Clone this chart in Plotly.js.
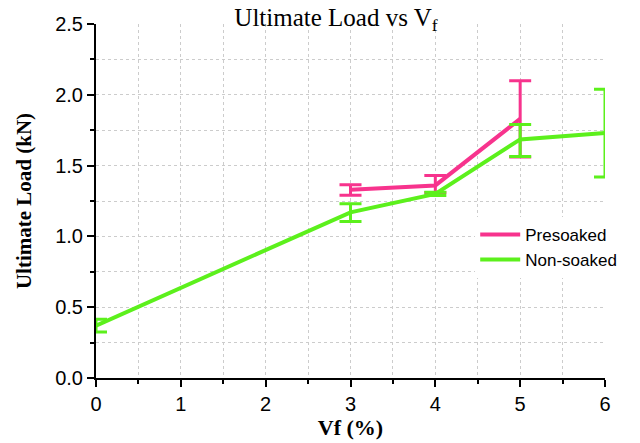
<!DOCTYPE html>
<html>
<head>
<meta charset="utf-8">
<script src="https://cdn.plot.ly/plotly-3.0.1.min.js"></script>
<style>html,body{margin:0;padding:0;background:#fff;}#chart{width:640px;height:443px;}</style>
</head>
<body>
<div id="chart"></div>
<script>
// Data
const presoakedX = [3, 4, 5];
const presoakedY = [1.33, 1.36, 1.83];
const presoakedErrPlus = [0.035, 0.07, 0.27];
const presoakedErrMinus = [0.04, 0.05, 0.27];

const nonSoakedX = [0, 3, 4, 5, 6];
const nonSoakedY = [0.37, 1.17, 1.30, 1.685, 1.73];
const nonSoakedErrPlus = [0.045, 0.06, 0.012, 0.105, 0.31];
const nonSoakedErrMinus = [0.045, 0.065, 0.012, 0.12, 0.31];

const xTicks = [0, 1, 2, 3, 4, 5, 6];
const yTicks = [0.0, 0.5, 1.0, 1.5, 2.0, 2.5];
const yTickText = ['0.0', '0.5', '1.0', '1.5', '2.0', '2.5'];

const pink = '#F7338D';
const green = '#5CF01C';

const traces = [
  {
    x: presoakedX, y: presoakedY, name: 'Presoaked', type: 'scatter', mode: 'lines',
    line: {color: pink, width: 4},
    error_y: {type: 'data', array: presoakedErrPlus, arrayminus: presoakedErrMinus,
              color: pink, thickness: 3, width: 11, visible: true}
  },
  {
    x: nonSoakedX, y: nonSoakedY, name: 'Non-soaked', type: 'scatter', mode: 'lines',
    line: {color: green, width: 4},
    error_y: {type: 'data', array: nonSoakedErrPlus, arrayminus: nonSoakedErrMinus,
              color: green, thickness: 3, width: 11, visible: true}
  }
];

const serif = 'Liberation Serif, Times New Roman, serif';
const sans = 'Liberation Sans, Arial, sans-serif';

const layout = {
  width: 640, height: 443,
  margin: {l: 96, r: 35, t: 24, b: 65},
  paper_bgcolor: '#fff', plot_bgcolor: '#fff',
  title: {
    text: 'Ultimate Load vs V<sub>f</sub>',
    font: {family: serif, size: 25, color: '#000'},
    x: 0.525, xanchor: 'center', y: 0.962, yanchor: 'middle'
  },
  xaxis: {
    range: [0, 6], tickvals: xTicks, ticktext: xTicks.map(String),
    showline: true, linecolor: '#000', linewidth: 2,
    ticks: 'outside', ticklen: 7, tickwidth: 2, tickcolor: '#000',
    tickfont: {family: sans, size: 20, color: '#000'},
    showgrid: true, gridcolor: '#cccccc', gridwidth: 1, griddash: 'dot',
    minor: {dtick: 0.5, ticks: 'outside', ticklen: 4, tickwidth: 2, tickcolor: '#000',
            showgrid: true, gridcolor: '#cccccc', gridwidth: 1, griddash: 'dot'},
    zeroline: false, mirror: false,
    title: {text: '<b>Vf (%)</b>', font: {family: serif, size: 22, color: '#000'}, standoff: 6}
  },
  yaxis: {
    range: [0, 2.5], tickvals: yTicks, ticktext: yTickText,
    showline: true, linecolor: '#000', linewidth: 2,
    ticks: 'outside', ticklen: 7, tickwidth: 2, tickcolor: '#000',
    tickfont: {family: sans, size: 20, color: '#000'},
    showgrid: true, gridcolor: '#cccccc', gridwidth: 1, griddash: 'dot',
    minor: {dtick: 0.25, ticks: 'outside', ticklen: 4, tickwidth: 2, tickcolor: '#000',
            showgrid: true, gridcolor: '#cccccc', gridwidth: 1, griddash: 'dot'},
    zeroline: false, mirror: false,
    title: {text: '<b>Ultimate Load (kN)</b>', font: {family: serif, size: 21, color: '#000'}, standoff: 18}
  },
  legend: {
    x: 0.745, y: 0.455, xanchor: 'left', yanchor: 'top',
    bgcolor: '#fff', borderwidth: 0,
    font: {family: sans, size: 17, color: '#000'},
    tracegroupgap: 0, itemwidth: 40
  },
  showlegend: true
};

Plotly.newPlot('chart', traces, layout, {displayModeBar: false, staticPlot: true});
</script>
</body>
</html>
